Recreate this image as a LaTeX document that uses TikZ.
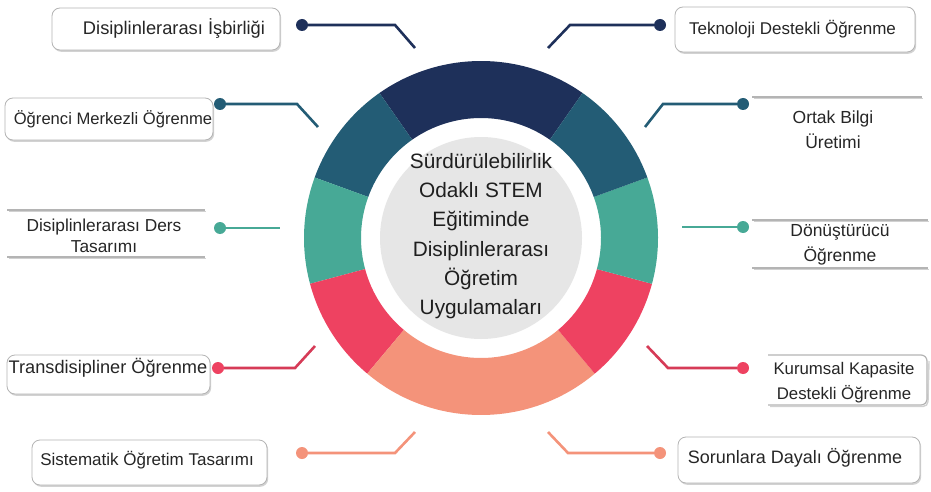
\documentclass[tikz,border=0pt]{standalone}
\usepackage{fontspec}
\setmainfont{Liberation Sans}
\usetikzlibrary{shadows}
\definecolor{cnavy}{HTML}{1E305A}
\definecolor{cdteal}{HTML}{235C75}
\definecolor{cteal}{HTML}{47A996}
\definecolor{cred}{HTML}{EE4261}
\definecolor{csalmon}{HTML}{F4937A}
\definecolor{cgray}{HTML}{E6E6E6}
\definecolor{cbord}{HTML}{B4B4B4}
\begin{document}
\begin{tikzpicture}[x=1pt,y=-1pt,
  lbox/.style={draw=cbord, fill=white, rounded corners=8pt, line width=0.8pt,
    drop shadow={opacity=0.35, shadow xshift=1.2pt, shadow yshift=-1.8pt}},
  dotn/.style={circle, inner sep=0pt, minimum size=12pt},
  conn/.style={line width=2.6pt},
  lab/.style={font=\fontsize{17.5}{25}\selectfont, align=center, inner sep=0pt, text=black!85},
  hubtext/.style={font=\fontsize{20.8}{29.3}\selectfont, align=center, inner sep=0pt, text=black!88},
  bline/.style={draw=cbord, line width=1.2pt},
  bshadow/.style={draw=black, opacity=0.18, line width=1.4pt}]
\useasboundingbox (0,0) rectangle (931,492);
\fill[white] (0,0) rectangle (931,492);

% ring
\begin{scope}[shift={(481pt,-238pt)}, y=1pt]
  \def\ringseg#1#2#3{\fill[#1] (#2:177) arc[start angle=#2, end angle=#3, radius=177] -- (#3:120) arc[start angle=#3, end angle=#2, radius=120] -- cycle;}
  \ringseg{cnavy}{55}{125}
  \ringseg{cdteal}{125}{160}
  \ringseg{cteal}{160}{195}
  \ringseg{cred}{195}{230}
  \ringseg{csalmon}{230}{310}
  \ringseg{cred}{310}{345}
  \ringseg{cteal}{345}{380}
  \ringseg{cdteal}{20}{55}
  \fill[cgray] (0,0) circle[radius=101];
\end{scope}
\node[hubtext] (hub) at (481,236) {Sürdürülebilirlik\\Odaklı STEM\\Eğitiminde\\Disiplinlerarası\\Öğretim\\Uygulamaları};

% left boxes
\node[lbox, minimum width=228pt, minimum height=42pt] (b1) at (166,29) {};
\node[lab, font=\fontsize{18.3}{25}\selectfont] (t1) at (174,29) {Disiplinlerarası İşbirliği};
\node[lbox, minimum width=208pt, minimum height=42pt] (b2) at (109,119) {};
\node[lab, font=\fontsize{16.6}{25}\selectfont] (t2) at (113,119) {Öğrenci Merkezli Öğrenme};
\draw[bshadow] (9,211.5) -- (206,211.5);
\draw[bline] (7,210) -- (205,210);
\draw[bshadow] (9,258.5) -- (206,258.5);
\draw[bline] (7,257) -- (205,257);
\node[lab, font=\fontsize{17.3}{21}\selectfont] (t3) at (104,236) {Disiplinlerarası Ders\\Tasarımı};
\node[lbox, minimum width=203pt, minimum height=39pt] (b4) at (108.5,374.5) {};
\node[lab, font=\fontsize{18.2}{25}\selectfont] (t4) at (108,368) {Transdisipliner Öğrenme};
\node[lbox, minimum width=235pt, minimum height=45pt] (b5) at (149.5,462.5) {};
\node[lab, font=\fontsize{17}{25}\selectfont] (t5) at (147,460) {Sistematik Öğretim Tasarımı};

% right boxes
\node[lbox, minimum width=240pt, minimum height=45pt] (b6) at (795,29.5) {};
\node[lab, font=\fontsize{17}{25}\selectfont] (t6) at (792.5,29) {Teknoloji Destekli Öğrenme};
\draw[bshadow] (754,98.5) -- (923,98.5);
\draw[bline] (752,97) -- (922,97);
\node[lab] (t7) at (833,130) {Ortak Bilgi\\Üretimi};
\draw[bshadow] (754,221.5) -- (929,221.5);
\draw[bline] (752,220) -- (928,220);
\draw[bshadow] (754,269.5) -- (929,269.5);
\draw[bline] (752,268) -- (928,268);
\node[lab] (t8) at (840,245) {Dönüştürücü\\Öğrenme};
\draw[bshadow] (770,406.5) -- (923,406.5) arc[start angle=90, end angle=0, radius=5] -- (929,361);
\draw[bline] (768,355) -- (921,355) arc[start angle=-90, end angle=0, radius=6] -- (927,399) arc[start angle=0, end angle=90, radius=6] -- (768,405);
\node[lab, font=\fontsize{16.8}{25}\selectfont] (t9) at (844,383) {Kurumsal Kapasite\\Destekli Öğrenme};
\node[lbox, minimum width=242pt, minimum height=46pt] (b10) at (799,460) {};
\node[lab, font=\fontsize{18}{25}\selectfont] (t10) at (795,458) {Sorunlara Dayalı Öğrenme};

% dots
\node[dotn, fill=cnavy] (d1) at (302,25) {};
\node[dotn, fill=cdteal] (d2) at (220,104) {};
\node[dotn, fill=cteal] (d3) at (220,228) {};
\node[dotn, fill=cred] (d4) at (218,368) {};
\node[dotn, fill=csalmon] (d5) at (302,453) {};
\node[dotn, fill=cnavy] (d6) at (660,25) {};
\node[dotn, fill=cdteal] (d7) at (743,104) {};
\node[dotn, fill=cteal] (d8) at (743,227) {};
\node[dotn, fill=cred] (d9) at (743,368) {};
\node[dotn, fill=csalmon] (d10) at (660,453) {};

% elbows and ends
\coordinate (e1) at (395,25);  \coordinate (f1) at (415,48);
\coordinate (e2) at (297,104); \coordinate (f2) at (318,127);
\coordinate (f3) at (280,228);
\coordinate (e4) at (295,368); \coordinate (f4) at (315,346);
\coordinate (e5) at (395,453); \coordinate (f5) at (415,432);
\coordinate (e6) at (570,25);  \coordinate (f6) at (548,48);
\coordinate (e7) at (663,104); \coordinate (f7) at (645,127);
\coordinate (f8) at (682,227);
\coordinate (e9) at (668,368); \coordinate (f9) at (647,346);
\coordinate (e10) at (568,453); \coordinate (f10) at (548,432);

\draw[conn, cnavy] (d1) -- (e1) -- (f1);
\draw[conn, cdteal] (d2) -- (e2) -- (f2);
\draw[conn, cteal] (d3) -- (f3);
\draw[conn, cred!90!black] (d4) -- (e4) -- (f4);
\draw[conn, csalmon] (d5) -- (e5) -- (f5);
\draw[conn, cnavy] (d6) -- (e6) -- (f6);
\draw[conn, cdteal] (d7) -- (e7) -- (f7);
\draw[conn, cteal] (d8) -- (f8);
\draw[conn, cred!90!black] (d9) -- (e9) -- (f9);
\draw[conn, csalmon] (d10) -- (e10) -- (f10);
\end{tikzpicture}
\end{document}
